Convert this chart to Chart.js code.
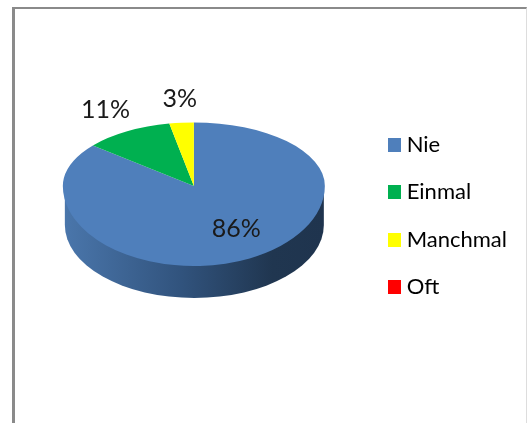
<!DOCTYPE html>
<html>
<head>
<meta charset="utf-8">
<script src="https://cdn.jsdelivr.net/npm/chart.js@4"></script>
<style>
  html, body { margin: 0; padding: 0; background: #fff; overflow: hidden; }
  #wrap { position: relative; width: 528px; height: 423px; }
  #frame { position: absolute; left: 12px; top: 7px; width: 511px; height: 416px;
           border-top: 2px solid #8a8a8a; border-left: 3px solid #8a8a8a; border-right: 1px solid #ddd; }
  canvas { position: absolute; left: 0; top: 0; }
</style>
</head>
<body>
<div id="wrap">
  <div id="frame"></div>
  <canvas id="myChart" width="528" height="423"></canvas>
</div>
<script>
const categories = ["Nie", "Einmal", "Manchmal", "Oft"];
const percentValues = [86, 11, 3, 0];
const sliceColors = ["#4f7fbb", "#00b050", "#ffff00", "#ff0000"];

// tilt of the pie: where the hub lands and how much each half is squashed
const hubY = 186;
const squashTop = 63.5 / 131;
const squashBottom = 80 / 131;
const sideDrop = 39;
const sideRadiusY = 73;

// label placement along the slice, r is relative to the outer radius
const labelPlace = [
  { r: 0.6, dx: 9, dy: 0 },
  { r: 1.1, dx: -15, dy: -16 },
  { r: 1.15, dx: 0, dy: -14 },
];

function tilt(ctx, arc, squash) {
  ctx.translate(0, hubY);
  ctx.scale(1, squash);
  ctx.translate(0, -arc.y);
}

function drawSide(ctx, arc) {
  const rx = arc.outerRadius - 1.5;
  const cx = arc.x + 0.5;
  const y = hubY + sideDrop;
  const grad = ctx.createLinearGradient(cx - rx, 0, cx + rx, 0);
  grad.addColorStop(0, "#4a76ab");
  grad.addColorStop(0.45, "#31537d");
  grad.addColorStop(0.8, "#203650");
  grad.addColorStop(1, "#1f344e");
  ctx.save();
  ctx.fillStyle = grad;
  ctx.beginPath();
  ctx.moveTo(cx - rx, hubY + 4);
  ctx.lineTo(cx - rx, y);
  ctx.ellipse(cx, y, rx, sideRadiusY, 0, Math.PI, 0, true);
  ctx.lineTo(cx + rx, hubY + 4);
  ctx.closePath();
  ctx.fill();
  ctx.restore();
}

const pie3d = {
  id: "pie3d",
  beforeDatasetDraw(chart, args) {
    const ctx = chart.ctx;
    const arc = args.meta.data[0];
    drawSide(ctx, arc);
    ctx.save();
    ctx.beginPath();
    ctx.rect(0, 0, chart.width, hubY);
    ctx.clip();
    tilt(ctx, arc, squashTop);
  },
  afterDatasetDraw(chart, args) {
    const ctx = chart.ctx;
    ctx.restore();
    // lower half of the same arcs, squashed less
    ctx.save();
    ctx.beginPath();
    ctx.rect(0, hubY, chart.width, chart.height - hubY);
    ctx.clip();
    tilt(ctx, args.meta.data[0], squashBottom);
    args.meta.data.forEach((a) => a.draw(ctx));
    ctx.restore();
  },
  afterDraw(chart) {
    const ctx = chart.ctx;
    const meta = chart.getDatasetMeta(0);
    ctx.save();
    ctx.font = "25px Lato";
    ctx.fillStyle = "#1a1a1a";
    ctx.textAlign = "center";
    ctx.textBaseline = "middle";
    meta.data.forEach((a, i) => {
      if (!percentValues[i]) return;
      const mid = (a.startAngle + a.endAngle) / 2;
      const p = labelPlace[i];
      const r = a.outerRadius * p.r;
      const sy = Math.sin(mid) < 0 ? squashTop : squashBottom;
      ctx.fillText(percentValues[i] + "%",
        a.x + Math.cos(mid) * r + p.dx,
        hubY + Math.sin(mid) * r * sy + p.dy);
    });
    ctx.restore();
  }
};

function swatch(color) {
  const c = document.createElement("canvas");
  c.width = 13;
  c.height = 14;
  const g = c.getContext("2d");
  g.fillStyle = color;
  g.fillRect(0, 0, 13, 14);
  return c;
}

new Chart(document.getElementById("myChart"), {
  type: "pie",
  data: {
    labels: categories,
    datasets: [{
      data: percentValues,
      backgroundColor: sliceColors,
      borderWidth: 0
    }]
  },
  plugins: [pie3d],
  options: {
    responsive: false,
    animation: false,
    layout: { padding: { left: 20.5, right: 11, top: 85, bottom: 76 } },
    plugins: {
      tooltip: { enabled: false },
      legend: {
        position: "right",
        labels: {
          color: "#262626",
          font: { family: "Lato", size: 22 },
          padding: 25.5,
          boxWidth: 3,
          boxHeight: 14,
          usePointStyle: true,
          pointStyleWidth: 3,
          generateLabels: () => categories.map((text, i) => ({
            text,
            index: i,
            hidden: false,
            fillStyle: sliceColors[i],
            pointStyle: swatch(sliceColors[i])
          }))
        }
      }
    }
  }
});
</script>
</body>
</html>
